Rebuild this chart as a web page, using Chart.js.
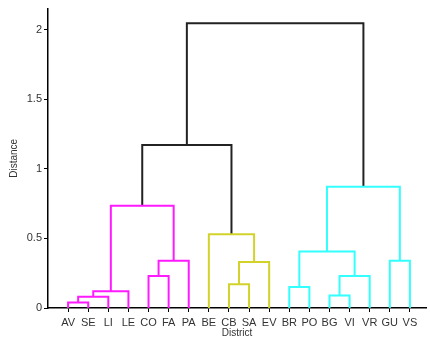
<!DOCTYPE html>
<html>
<head>
<meta charset="utf-8">
<script src="https://cdn.jsdelivr.net/npm/chart.js@4"></script>
<style>
  html, body { margin: 0; padding: 0; background: #fff; }
  #wrap { width: 430px; height: 339px; position: relative; }
</style>
</head>
<body>
<div id="wrap"><canvas id="dendro"></canvas></div>
<script>
// leaves in display order
const leaves = ['AV','SE','LI','LE','CO','FA','PA','BE','CB','SA','EV','BR','PO','BG','VI','VR','GU','VS'];

// merges: mN refers to the N-th merge below
const mergeLeft   = ['AV','m0','m1','CO','m3','m2','CB','m6','BE','m5','BR','BG','m11','m10','GU','m13','m9'];
const mergeRight  = ['SE','LI','LE','FA','PA','m4','SA','EV','m7','m8','PO','VI','VR','m12','VS','m14','m15'];
const mergeHeight = [0.04,0.08,0.12,0.23,0.34,0.735,0.17,0.33,0.53,1.17,0.15,0.09,0.23,0.405,0.34,0.87,2.045];
const mergeGroup  = ['A','A','A','A','A','A','B','B','B','top','C','C','C','C','C','C','top'];

const yTicks = [0, 0.5, 1, 1.5, 2];

const groupColors = { A: '#ff1aff', B: '#d2d22a', C: '#33ffff', top: '#222222' };

// position + height of any node
function nodeInfo(name) {
    if (name.startsWith('m')) {
        const i = parseInt(name.slice(1));
        const l = nodeInfo(mergeLeft[i]);
        const r = nodeInfo(mergeRight[i]);
        return { x: (l.x + r.x) / 2, h: mergeHeight[i] };
    }
    return { x: leaves.indexOf(name) + 1, h: 0 };
}

var datasets = [];
for (let i = 0; i < mergeHeight.length; i++) {
    const l = nodeInfo(mergeLeft[i]);
    const r = nodeInfo(mergeRight[i]);
    datasets.push({
        data: [
            { x: l.x, y: l.h },
            { x: l.x, y: mergeHeight[i] },
            { x: r.x, y: mergeHeight[i] },
            { x: r.x, y: r.h }
        ],
        showLine: true,
        borderColor: groupColors[mergeGroup[i]],
        borderWidth: 2,
        pointRadius: 0,
        tension: 0,
        fill: false
    });
}

const ctx = document.getElementById('dendro').getContext('2d');
const dendro_chart = new Chart(ctx, {
    type: 'scatter',
    data: { datasets: datasets },
    options: {
        responsive: true,
        maintainAspectRatio: false,
        animation: false,
        layout: { padding: { top: 7, right: 4, left: 0, bottom: 0 } },
        plugins: { legend: { display: false }, tooltip: { enabled: false } },
        scales: {
            x: {
                type: 'linear',
                min: 0,
                max: 18.8,
                afterBuildTicks: scale => { scale.ticks = leaves.map((_, i) => ({ value: i + 1 })); },
                afterFit: scale => { scale.height = 31; },
                ticks: {
                    autoSkip: false,
                    maxRotation: 0,
                    padding: 4,
                    color: '#333',
                    font: { family: 'Liberation Sans', size: 11 },
                    callback: v => leaves[v - 1]
                },
                grid: { drawOnChartArea: false, drawTicks: true, tickLength: 4, color: '#000', lineWidth: 1 },
                border: { display: true, color: '#000', width: 1.5 },
                title: {
                    display: true,
                    text: 'District',
                    color: '#333',
                    padding: 0,
                    font: { family: 'Liberation Sans', size: 10 }
                }
            },
            y: {
                type: 'linear',
                min: 0,
                max: 2.15,
                afterBuildTicks: scale => { scale.ticks = yTicks.map(v => ({ value: v })); },
                afterFit: scale => { scale.width = 48; },
                ticks: {
                    padding: 2,
                    color: '#333',
                    font: { family: 'Liberation Sans', size: 11 },
                    callback: v => String(v)
                },
                grid: { drawOnChartArea: false, drawTicks: true, tickLength: 4, color: '#000', lineWidth: 1 },
                border: { display: true, color: '#000', width: 1.5 },
                title: {
                    display: true,
                    text: 'Distance',
                    color: '#333',
                    padding: { top: 8, bottom: 0 },
                    font: { family: 'Liberation Sans', size: 10 }
                }
            }
        }
    }
});
</script>
</body>
</html>
